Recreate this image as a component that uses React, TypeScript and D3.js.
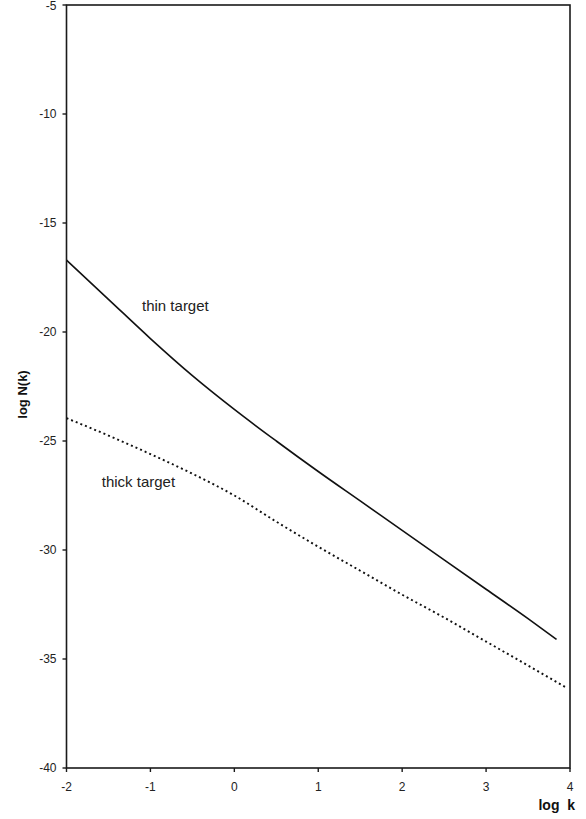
import React from 'react';
import { scaleLinear, line, curveMonotoneX } from 'd3';

// log k values and curves
const thinK = [-2, -1.5, -1, -0.5, 0, 0.5, 1, 1.5, 2, 2.5, 3, 3.5, 3.84];
const thinN = [-16.7, -18.5, -20.3, -22.0, -23.55, -25.0, -26.4, -27.75, -29.1, -30.45, -31.8, -33.15, -34.1];

const thickK = [-2, -1.5, -1, -0.5, 0, 0.5, 1, 1.5, 2, 2.5, 3, 3.5, 3.95];
const thickN = [-23.95, -24.75, -25.6, -26.5, -27.5, -28.7, -29.85, -30.95, -32.05, -33.1, -34.2, -35.3, -36.3];

const xTicks = [-2, -1, 0, 1, 2, 3, 4];
const yTicks = [-5, -10, -15, -20, -25, -30, -35, -40];

const labels = [
  { text: 'thin target', k: -1.1, n: -19.05 },
  { text: 'thick target', k: -1.58, n: -27.1 },
];

const W = 586;
const H = 819;
const margin = { left: 66.5, right: 16, top: 5, bottom: 51 };
const axisCol = '#1a1a1a';
const font = 'Liberation Sans, Arial, sans-serif';

export default function App() {
  const x = scaleLinear().domain([-2, 4]).range([margin.left, W - margin.right]);
  const y = scaleLinear().domain([-40, -5]).range([H - margin.bottom, margin.top]);

  const path = line<[number, number]>()
    .x(d => x(d[0]))
    .y(d => y(d[1]))
    .curve(curveMonotoneX);

  const thin = path(thinK.map((k, i) => [k, thinN[i]] as [number, number])) || '';
  const thick = path(thickK.map((k, i) => [k, thickN[i]] as [number, number])) || '';

  const x0 = x(-2), x1 = x(4), y0 = y(-40), y1 = y(-5);

  return (
    <svg width={W} height={H} style={{ position: 'absolute', left: 0, top: 0, background: '#fff' }}>
      <rect x={0} y={0} width={W} height={H} fill="#fff" />

      {/* curves */}
      <path d={thin} fill="none" stroke="#111" strokeWidth={1.6} />
      <path d={thick} fill="none" stroke="#111" strokeWidth={1.9} strokeDasharray="2,3" />

      {labels.map(l => (
        <text key={l.text} x={x(l.k)} y={y(l.n)} fontFamily={font} fontSize={15} fill="#222">
          {l.text}
        </text>
      ))}

      {/* frame */}
      <rect x={x0} y={y1} width={x1 - x0} height={y0 - y1} fill="none" stroke={axisCol} strokeWidth={1.6} />

      {/* y axis */}
      {yTicks.map(t => (
        <g key={t}>
          <line x1={x0 - 4} x2={x0} y1={y(t)} y2={y(t)} stroke={axisCol} strokeWidth={1.4} />
          <text
            x={x0 - 10}
            y={Math.max(y(t), 6)}
            dy="0.35em"
            textAnchor="end"
            fontFamily={font}
            fontSize={12}
            fill="#222"
          >
            {t}
          </text>
        </g>
      ))}

      {/* x axis */}
      {xTicks.map(t => (
        <g key={t}>
          <line x1={x(t)} x2={x(t)} y1={y0} y2={y0 + 4} stroke={axisCol} strokeWidth={1.4} />
          <text x={x(t)} y={y0 + 23} textAnchor="middle" fontFamily={font} fontSize={12} fill="#222">
            {t}
          </text>
        </g>
      ))}

      <text x={x1 + 5} y={y0 + 42} textAnchor="end" fontFamily={font} fontSize={14} fontWeight="bold" fill="#111" style={{ whiteSpace: 'pre' }}>
        {'log  k'}
      </text>
      <text
        transform={`translate(27, ${(y0 + y1) / 2 + 8}) rotate(-90)`}
        textAnchor="middle"
        fontFamily={font}
        fontSize={13}
        fontWeight="bold"
        fill="#111"
      >
        log N(k)
      </text>
    </svg>
  );
}
